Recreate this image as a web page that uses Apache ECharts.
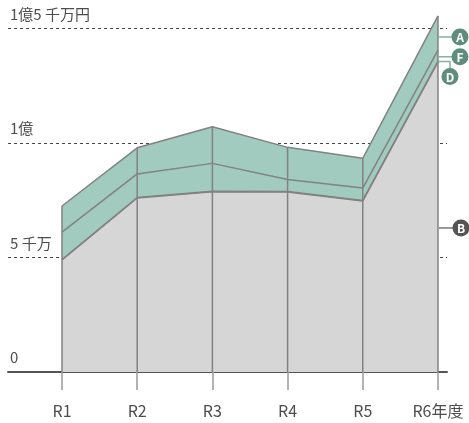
<!DOCTYPE html>
<html>
<head>
<meta charset="utf-8">
<script src="https://cdn.jsdelivr.net/npm/echarts@6/dist/echarts.min.js"></script>
<style>
  html, body { margin: 0; padding: 0; background: #fff; }
  #main { width: 469px; height: 423px; }
</style>
</head>
<body>
<div id="main"></div>
<script>
// 年度
const categories = ['R1', 'R2', 'R3', 'R4', 'R5', 'R6年度'];
// 単位：万円（下から B, D, F, A の積み上げ）
const seriesB = [4890, 7600, 7870, 7860, 7470, 13540];
const seriesD = [20, 20, 20, 20, 20, 20];
const seriesF = [1200, 1030, 1220, 530, 540, 500];
const seriesA = [1140, 1140, 1600, 1400, 1300, 1490];
// y軸の目盛
const yTickValues = [0, 5000, 10000, 15000];
const yTickLabels = ['0', '5 千万', '1億', '1億5 千万円'];

const chart = echarts.init(document.getElementById('main'));
const font = "'Noto Sans CJK JP', 'Noto Sans', sans-serif";
const green = '#a0cbbe';
const edge = '#828282';

// 積み上げ（x軸が数値軸なので自前で累積する）
const cumB = seriesB.slice();
const cumD = cumB.map((v, i) => v + seriesD[i]);
const cumF = cumD.map((v, i) => v + seriesF[i]);
const cumA = cumF.map((v, i) => v + seriesA[i]);
const pairs = arr => arr.map((v, i) => [i, v]);

function areaSeries(name, data, fill) {
    return {
        name: name,
        type: 'line',
        data: pairs(data),
        symbol: 'none',
        clip: false,
        lineStyle: { color: edge, width: 1.5 },
        areaStyle: { color: fill, opacity: 1, origin: 'start' },
        z: 2
    };
}

const option = {
    animation: false,
    grid: { left: 8, right: 22, top: 28.5, bottom: 51 },
    xAxis: {
        type: 'value',
        min: -0.718,
        max: 5.12,
        splitLine: { show: false },
        axisLine: { onZero: false, lineStyle: { color: '#555', width: 2 } },
        axisTick: {
            customValues: categories.map((c, i) => i),
            length: 18,
            lineStyle: { color: '#9a9a9a', width: 1.5 }
        },
        axisLabel: {
            customValues: categories.map((c, i) => i),
            formatter: v => categories[v],
            margin: 31,
            color: '#4d4d4d',
            fontSize: 16,
            fontFamily: font
        }
    },
    yAxis: {
        type: 'value',
        min: 0,
        max: 15000,
        interval: 5000,
        axisLine: { show: false },
        axisTick: { show: false },
        splitLine: { lineStyle: { color: '#444', type: [3, 3], width: 1 } },
        axisLabel: {
            inside: true,
            margin: 2,
            verticalAlign: 'bottom',
            padding: [0, 0, 7, 0],
            color: '#4d4d4d',
            fontSize: 15,
            fontFamily: font,
            formatter: v => yTickLabels[yTickValues.indexOf(v)]
        }
    },
    series: [
        // 上の層から描いて下の層で塗り重ねる
        areaSeries('A', cumA, green),
        areaSeries('F', cumF, green),
        areaSeries('D', cumD, green),
        areaSeries('B', cumB, '#d6d6d6'),
        {
            // 各年度の縦線
            type: 'bar',
            data: pairs(cumA),
            barWidth: 1.5,
            clip: false,
            itemStyle: { color: edge },
            z: 3
        }
    ]
};
chart.setOption(option);

// 右側のラベル（A, F, D, B）
const last = categories.length - 1;
const toPx = v => chart.convertToPixel({ xAxisIndex: 0, yAxisIndex: 0 }, [last, v]);

function badge(letter, cx, cy, fill) {
    return [
        { type: 'circle', shape: { cx: cx, cy: cy, r: 8.5 }, style: { fill: fill }, z: 10 },
        {
            type: 'text', x: cx, y: cy + 0.5, z: 11,
            style: { text: letter, fill: '#fff', font: 'bold 12px ' + font, align: 'center', verticalAlign: 'middle' }
        }
    ];
}
function leader(points, color) {
    return { type: 'polyline', shape: { points: points }, style: { stroke: color, lineWidth: 1.5, fill: null }, z: 9 };
}

const x0 = toPx(0)[0] + 1;
const yA = (toPx(cumF[last])[1] + toPx(cumA[last])[1]) / 2 + 4;
const yF = (toPx(cumD[last])[1] + toPx(cumF[last])[1]) / 2 + 1;
const yD = toPx(cumD[last])[1];
const yB = (toPx(0)[1] + toPx(cumB[last])[1]) / 2 + 11;
const dark = '#5e8c7d';
const lineGreen = '#86b0a2';

const graphics = [].concat(
    leader([[x0, yA], [x0 + 13, yA]], lineGreen), badge('A', x0 + 21, yA, dark),
    leader([[x0, yF], [x0 + 13, yF]], lineGreen), badge('F', x0 + 21, yF, dark),
    leader([[x0, yD], [x0 + 11, yD], [x0 + 11, yD + 8]], lineGreen), badge('D', x0 + 11, yD + 15, dark),
    leader([[x0, yB], [x0 + 15, yB]], '#777'), badge('B', x0 + 22, yB, '#555')
);
chart.setOption({ graphic: graphics });
</script>
</body>
</html>
